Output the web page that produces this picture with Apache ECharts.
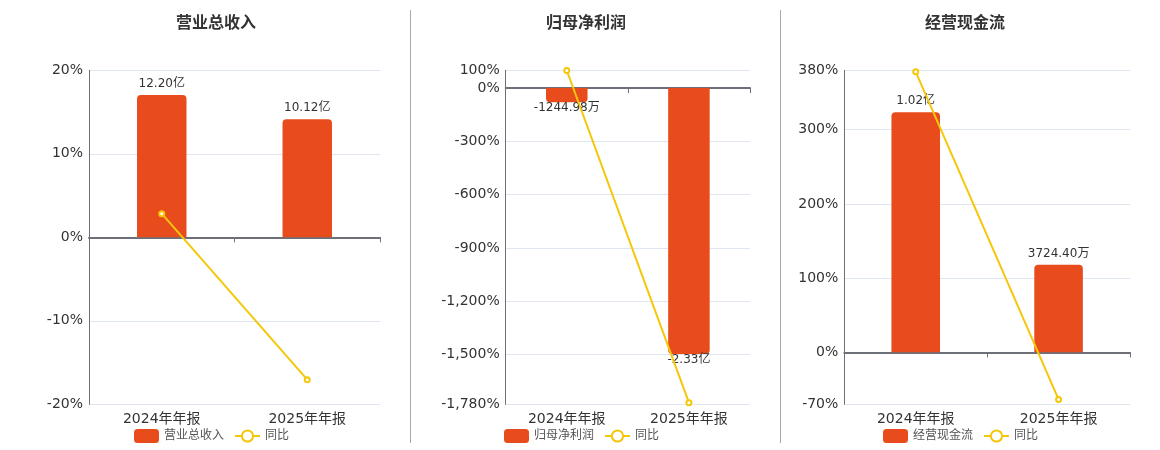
<!DOCTYPE html>
<html>
<head>
<meta charset="utf-8">
<script src="https://cdn.jsdelivr.net/npm/echarts@6/dist/echarts.min.js"></script>
<style>html,body{margin:0;padding:0;background:#fff}#c{width:1160px;height:450px}</style>
</head>
<body>
<div id="c"></div>
<script>
// ---- data ----
const categories = ['2024年年报', '2025年年报'];
const titles = ['营业总收入', '归母净利润', '经营现金流'];
// bar values in 亿
const revenue = [12.20, 10.12];
const netProfit = [-0.124498, -2.33];
const cashFlow = [1.02, 0.37244];
// YoY %
const revenueYoY = [2.83, -17.05];
const netProfitYoY = [99, -1771];
const cashFlowYoY = [378, -63.49];
// percent axis extents
const pctMin = [-20, -1780, -70];
const pctMax = [20, 100, 380];

const barSets = [revenue, netProfit, cashFlow];
const yoySets = [revenueYoY, netProfitYoY, cashFlowYoY];

// layout
const grids = [
  {left: 89, width: 291},
  {left: 505.7, width: 244.3},
  {left: 844.3, width: 285.7}
];
const centers = [211, 581, 960];
const headroom = [1.173, 1.189, 1.175];
const FONT = '"DejaVu Sans", "Noto Sans CJK SC", sans-serif';

function fmtMoney(v) {
  if (Math.abs(v) >= 1) return v.toFixed(2) + '亿';
  return (v * 10000).toFixed(2) + '万';
}
function fmtPct(v) {
  return Math.round(v).toLocaleString('en-US') + '%';
}

const option = {
  animation: false,
  textStyle: {fontFamily: FONT},
  title: [], legend: [], grid: [], xAxis: [], yAxis: [], series: [],
  graphic: [
    {type: 'line', shape: {x1: 410.5, y1: 10, x2: 410.5, y2: 443}, style: {stroke: '#A9A9A2', lineWidth: 1}},
    {type: 'line', shape: {x1: 780.5, y1: 10, x2: 780.5, y2: 443}, style: {stroke: '#A9A9A2', lineWidth: 1}}
  ]
};

for (let i = 0; i < 3; i++) {
  const bars = barSets[i];
  const maxAbs = Math.max(...bars.map(Math.abs));
  let bMin, bMax;
  if (Math.max(...bars) > 0) {
    bMax = maxAbs * headroom[i];
    bMin = bMax * pctMin[i] / pctMax[i];
  } else {
    bMin = -maxAbs * headroom[i];
    bMax = bMin * pctMax[i] / pctMin[i];
  }
  const legendWidth = 25 + 5 + titles[i].length * 12 + 10 + 25 + 5 + 24;
  option.title.push({
    text: titles[i], left: centers[i], top: 11, textAlign: 'center',
    textStyle: {fontSize: 16, fontWeight: 'bold', color: '#333', fontFamily: FONT}
  });
  option.legend.push({
    data: [titles[i], '同比'], left: centers[i] - legendWidth / 2 - 5, top: 424,
    itemWidth: 25, itemHeight: 14, itemGap: 10,
    textStyle: {fontSize: 12, color: '#555', fontFamily: FONT}
  });
  option.grid.push({left: grids[i].left, width: grids[i].width, top: 70.3, bottom: 45.7});
  option.xAxis.push({
    type: 'category', gridIndex: i, data: categories,
    axisLine: {show: false, onZero: false}, axisTick: {show: false},
    axisLabel: {fontSize: 14, color: '#333', margin: 8, fontFamily: FONT}
  });
  option.xAxis.push({
    type: 'category', gridIndex: i, data: categories, position: 'bottom',
    axisLine: {show: true, onZero: true, onZeroAxisIndex: 2 * i, lineStyle: {color: '#6E7079', width: 2}},
    axisTick: {show: true, length: 5, lineStyle: {color: '#6E7079'}},
    axisLabel: {show: false}
  });
  option.yAxis.push({
    type: 'value', gridIndex: i, min: pctMin[i], max: pctMax[i],
    interval: i === 0 ? 10 : undefined,
    axisLine: {show: true, lineStyle: {color: '#6E7079'}},
    axisTick: {show: false},
    axisLabel: {fontSize: 14, color: '#333', margin: 6, formatter: fmtPct, showMinLabel: true, showMaxLabel: true, fontFamily: FONT},
    splitLine: {show: true, lineStyle: {color: '#E0E6F1'}}
  });
  option.yAxis.push({
    type: 'value', gridIndex: i, min: bMin, max: bMax, show: false,
    splitLine: {show: false}
  });
  option.series.push({
    name: titles[i], type: 'bar', xAxisIndex: 2 * i, yAxisIndex: 2 * i + 1,
    barWidth: '34%',
    itemStyle: {color: '#E84C1D'},
    data: bars.map(v => ({
      value: v,
      itemStyle: {borderRadius: v >= 0 ? [4, 4, 0, 0] : [0, 0, 4, 4]},
      label: {show: true, position: v >= 0 ? 'top' : 'bottom', distance: v >= 0 ? 5 : 0,
              fontSize: 12, color: '#333', fontFamily: FONT, formatter: p => fmtMoney(p.value)}
    }))
  });
  option.series.push({
    name: '同比', type: 'line', xAxisIndex: 2 * i, yAxisIndex: 2 * i,
    symbol: 'emptyCircle', symbolSize: 5,
    lineStyle: {color: '#F5C70A', width: 2},
    itemStyle: {color: '#F5C70A', borderWidth: 1.5},
    data: yoySets[i], z: 5
  });
}

const chart = echarts.init(document.getElementById('c'));
chart.setOption(option);
</script>
</body>
</html>
